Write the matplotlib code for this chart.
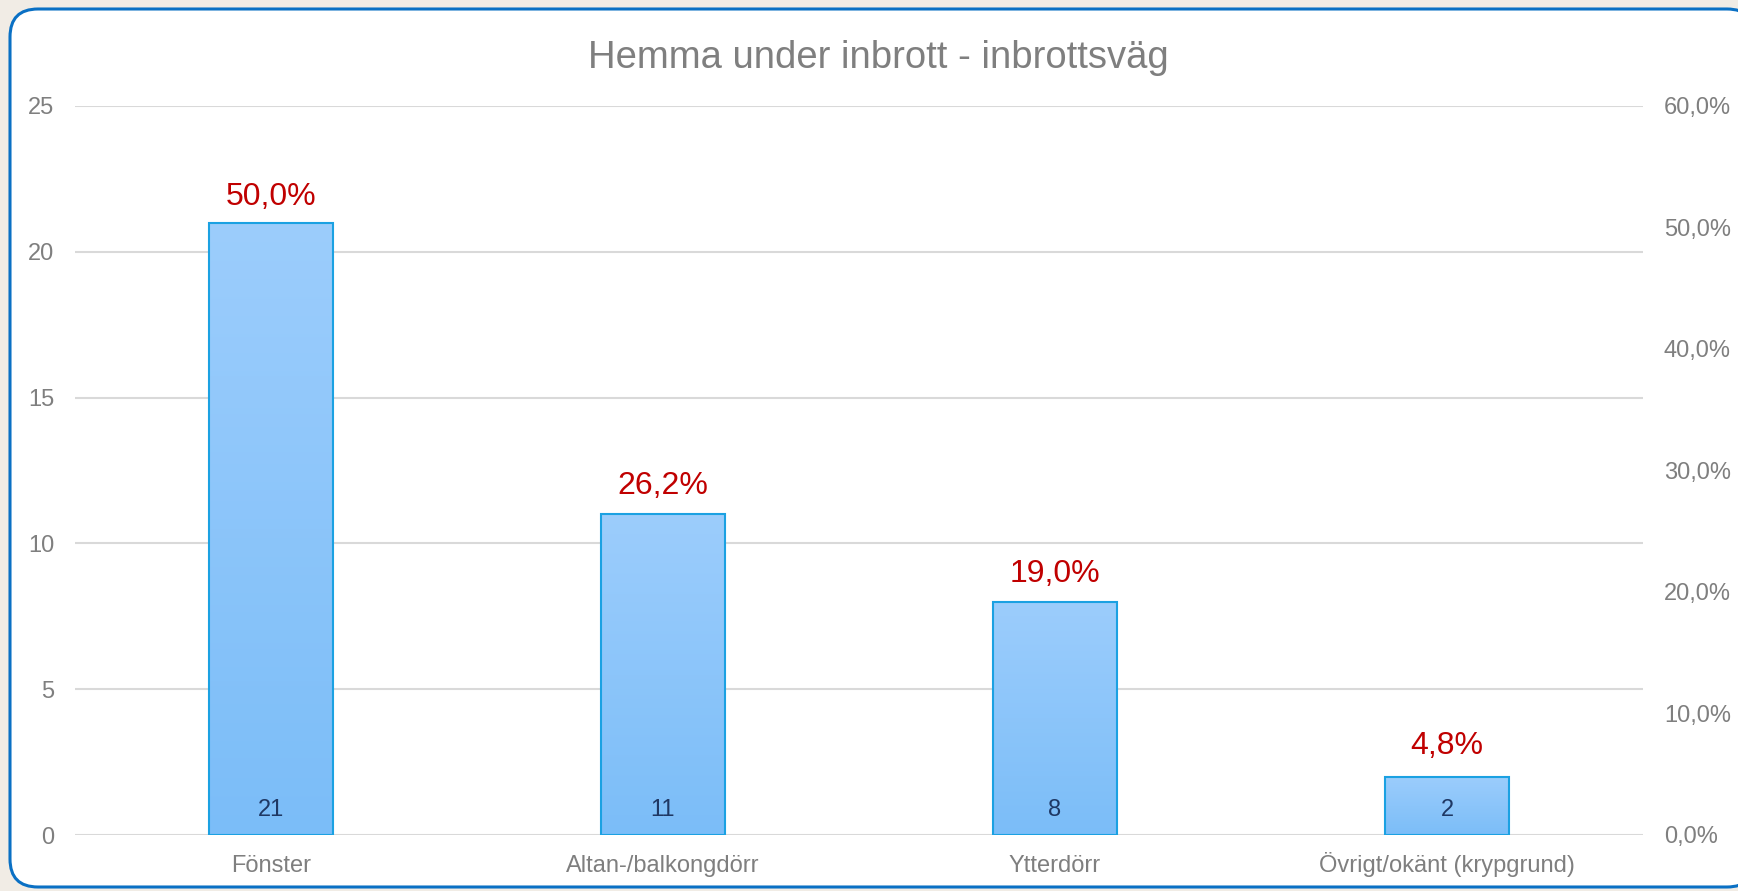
import matplotlib.pyplot as plt
import numpy as np
from matplotlib.colors import LinearSegmentedColormap
from matplotlib.patches import FancyBboxPatch
from matplotlib.ticker import FuncFormatter

plt.rcParams["font.family"] = ["Liberation Sans", "DejaVu Sans"]

categories = ["Fönster", "Altan-/balkongdörr", "Ytterdörr", "Övrigt/okänt (krypgrund)"]
counts = [21, 11, 8, 2]
shares = [50.0, 26.2, 19.0, 4.8]

GRID = "#d9d9d9"
TICK = "#7f7f7f"
EDGE = "#1ba1e2"

W, H = 1738, 891
fig = plt.figure(figsize=(W / 100, H / 100), dpi=100)
fig.patch.set_facecolor("#f1ece5")

# rounded white card with blue border (right edge runs off the image)
card = FancyBboxPatch(
    (10 / W, 4 / H), (1755 - 10) / W, (887 - 9) / H,
    boxstyle=f"round,pad=0,rounding_size={28 / W}",
    transform=fig.transFigure, facecolor="white", edgecolor="#0a70c4",
    linewidth=2.2, mutation_aspect=W / H, zorder=-5,
)
fig.patches.append(card)

ax = fig.add_axes([75 / W, 1 - 835 / H, (1643 - 75) / W, (835 - 106) / H])
ax.set_facecolor("none")
ax2 = ax.twinx()

x = np.arange(len(categories))
width = 0.316

ax2.set_ylim(0, 60)
ax2.set_yticks([0, 10, 20, 30, 40, 50, 60])
ax2.yaxis.set_major_formatter(FuncFormatter(lambda v, _: f"{v:.1f}%".replace(".", ",")))

for a in (ax, ax2):
    for s in a.spines.values():
        s.set_visible(False)
    a.tick_params(length=0, labelsize=17, labelcolor=TICK)
ax.tick_params(axis="y", pad=15)
ax2.tick_params(axis="y", pad=15)
ax.tick_params(axis="x", pad=26.5, labelsize=17)

ax.grid(axis="y", color=GRID, linewidth=1.5)
ax.set_axisbelow(True)

cmap = LinearSegmentedColormap.from_list("bar", ["#7bbdf8", "#9ccdfc"])
gradient = np.linspace(0, 1, 256).reshape(-1, 1)

bars = ax.bar(x, counts, width=width, facecolor="none", edgecolor=EDGE,
              linewidth=1.5, zorder=3)
for bar in bars:
    x0, y0 = bar.get_x(), bar.get_y()
    img = ax.imshow(gradient, cmap=cmap, origin="lower", aspect="auto",
                    extent=(x0, x0 + bar.get_width(), y0, y0 + bar.get_height()),
                    zorder=2)
    img.set_clip_path(bar)

ax.set_xlim(-0.5, len(categories) - 0.5)
ax.set_ylim(0, 25)
ax.set_yticks([0, 5, 10, 15, 20, 25])
ax.set_xticks(x)
ax.set_xticklabels(categories)
# same baseline for every category label, accents or not
for lbl in ax.get_xticklabels():
    lbl.set_verticalalignment("baseline")

for xi, c in zip(x, counts):
    ax.annotate(str(c), (xi, 0), xytext=(0, 18), textcoords="offset points",
                ha="center", va="center", fontsize=17, color="#1f3864", zorder=4)

for xi, p in zip(x, shares):
    ax2.annotate(f"{p:.1f}%".replace(".", ","), (xi, p), xytext=(0, 22),
                 textcoords="offset points", ha="center", va="center",
                 fontsize=23, color="#c00000")

fig.text(0.5 + 9 / W, 1 - 68 / H, "Hemma under inbrott - inbrottsväg", ha="center",
         va="baseline", fontsize=27.5, color="#7f7f7f")

fig.savefig("out.png", dpi=100, facecolor=fig.get_facecolor())
